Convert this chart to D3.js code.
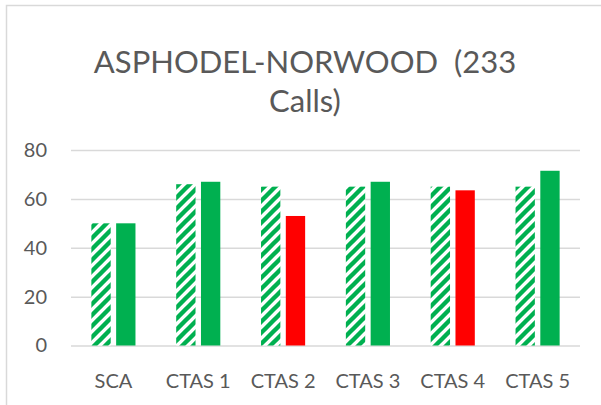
<!DOCTYPE html>
<html><head><meta charset="utf-8">
<script src="https://cdn.jsdelivr.net/npm/d3@7"></script>
<style>body{margin:0;background:#fff}svg{display:block}</style>
</head><body>
<svg id="c" width="601" height="405"></svg>
<script>
const categories = ["SCA","CTAS 1","CTAS 2","CTAS 3","CTAS 4","CTAS 5"];
const targetValues = [50,66,65,65,65,65];
const actualValues = [50,67,53,67,63.5,71.5];
const yTicks = [0,20,40,60,80];
const titleLines = ["ASPHODEL-NORWOOD  (233","Calls)"];

const svg = d3.select("#c");
const W = 601, H = 405;
const font = "Lato, 'Open Sans', sans-serif";
const textCol = "#595959";
const gridCol = "#D9D9D9";
const green = "#00B050", red = "#FF0000";

// chart border
svg.append("rect").attr("x",6.5).attr("y",5.5).attr("width",W+10).attr("height",H+10)
  .attr("fill","none").attr("stroke",gridCol).attr("stroke-width",1.5);

// hatch pattern
const defs = svg.append("defs");
const pat = defs.append("pattern").attr("id","hatch").attr("patternUnits","userSpaceOnUse")
  .attr("width",11).attr("height",11);
pat.append("rect").attr("width",11).attr("height",11).attr("fill","#fff");
pat.append("path").attr("d","M-3,3 L3,-3 M0,11 L11,0 M8,14 L14,8")
  .attr("stroke",green).attr("stroke-width",4.4).attr("fill","none");

const y = d3.scaleLinear().domain([0,80]).range([345.5,150]);
const x0 = d3.scaleBand().domain(categories).range([71,580]).paddingInner(0.48).paddingOuter(0.24);
const x1 = d3.scaleBand().domain(["t","a"]).range([0,x0.bandwidth()]).paddingInner(0.22);

// gridlines
const yAxis = d3.axisLeft(y).tickValues(yTicks).tickSize(-(580-71)).tickPadding(24);
const ga = svg.append("g").attr("transform","translate(71,0)").call(yAxis);
ga.select(".domain").remove();
ga.selectAll(".tick line").attr("stroke",gridCol).attr("stroke-width",1.5);
ga.selectAll(".tick text").attr("fill",textCol).style("font-family",font).style("font-size","20px");

// bars
const data = categories.map((c,i)=>({c, t:targetValues[i], a:actualValues[i]}));
const g = svg.append("g");
g.selectAll(".t").data(data).join("rect")
  .attr("x",d=>x0(d.c)+x1("t")).attr("width",x1.bandwidth())
  .attr("y",d=>y(d.t)).attr("height",d=>y(0)-y(d.t)).attr("fill","url(#hatch)");
g.selectAll(".a").data(data).join("rect")
  .attr("x",d=>x0(d.c)+x1("a")).attr("width",x1.bandwidth())
  .attr("y",d=>y(d.a)).attr("height",d=>y(0)-y(d.a))
  .attr("fill",d=>d.a < d.t ? red : green);

// x axis labels
const xAxis = d3.axisBottom(x0).tickSize(0).tickPadding(28);
const gx = svg.append("g").attr("transform","translate(0,345.5)").call(xAxis);
gx.select(".domain").remove();
gx.selectAll(".tick text").attr("fill",textCol).style("font-family",font).style("font-size","20px");

// title
const tt = svg.append("text").attr("text-anchor","middle").attr("fill",textCol)
  .style("font-family",font).style("font-size","31px").style("white-space","pre");
tt.selectAll("tspan").data(titleLines).join("tspan")
  .attr("x",305).attr("y",(d,i)=>73+i*39).text(d=>d);
</script>
</body></html>
